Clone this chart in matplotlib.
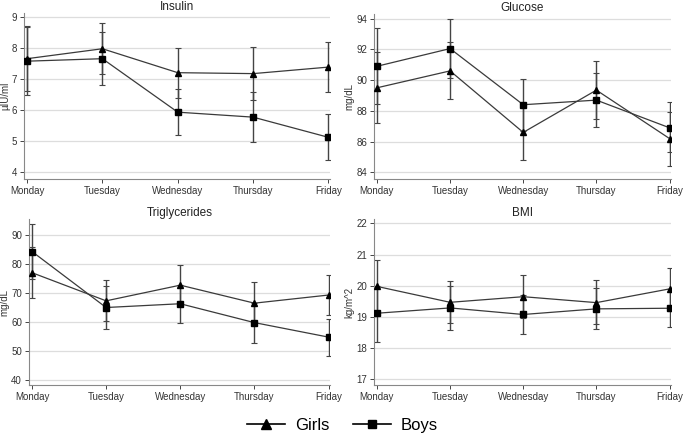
import numpy as np
import matplotlib
matplotlib.use("Agg")
import matplotlib.pyplot as plt
from matplotlib.lines import Line2D

plt.rcParams['font.family'] = ['Liberation Sans', 'DejaVu Sans']

# ── Data ──────────────────────────────────────────────────────────────────────

DAYS = ["Monday", "Tuesday", "Wednesday", "Thursday", "Friday"]

insulin_girls    = [7.65, 7.97, 7.20, 7.17, 7.38]
insulin_girls_lo = [6.62, 7.15, 6.40, 6.32, 6.58]
insulin_girls_hi = [8.70, 8.80, 8.00, 8.03, 8.20]
insulin_boys     = [7.57, 7.65, 5.93, 5.77, 5.12]
insulin_boys_lo  = [6.47, 6.80, 5.18, 4.97, 4.38]
insulin_boys_hi  = [8.67, 8.50, 6.68, 6.57, 5.86]

glucose_girls    = [89.5, 90.6, 86.6, 89.35, 86.2]
glucose_girls_lo = [87.2, 88.75, 84.8, 87.45, 84.4]
glucose_girls_hi = [91.8, 92.45, 88.4, 91.25, 87.95]
glucose_boys     = [90.9, 92.05, 88.4, 88.7, 86.9]
glucose_boys_lo  = [88.45, 90.15, 86.7, 86.95, 85.3]
glucose_boys_hi  = [93.4, 93.95, 90.1, 90.45, 88.55]

trig_girls    = [77.0, 67.3, 72.7, 66.5, 69.3]
trig_girls_lo = [68.2, 60.3, 65.7, 59.2, 62.4]
trig_girls_hi = [85.8, 74.4, 79.7, 73.8, 76.2]
trig_boys     = [84.3, 65.0, 66.3, 59.8, 54.8]
trig_boys_lo  = [74.7, 57.7, 59.8, 52.9, 48.4]
trig_boys_hi  = [93.9, 72.3, 72.8, 66.7, 61.1]

bmi_girls    = [19.98, 19.47, 19.65, 19.46, 19.90]
bmi_girls_lo = [19.12, 18.80, 18.97, 18.76, 19.20]
bmi_girls_hi = [20.83, 20.15, 20.33, 20.17, 20.58]
bmi_boys     = [19.12, 19.29, 19.08, 19.26, 19.28]
bmi_boys_lo  = [18.20, 18.58, 18.45, 18.60, 18.67]
bmi_boys_hi  = [20.00, 20.00, 19.70, 19.93, 19.90]

# ── Figure ────────────────────────────────────────────────────────────────────

W, H = 685, 436
fig = plt.figure(figsize=(W / 100, H / 100), dpi=100)


def px_axes(x0, y0, x1, y1):
    # pixel box (top-left origin) -> figure fraction
    return fig.add_axes([x0 / W, 1 - y1 / H, (x1 - x0) / W, (y1 - y0) / H])


panels = [
    ("Insulin", "µIU/ml", (24, 13, 330, 179), (3.78, 9.12), [4, 5, 6, 7, 8, 9],
     insulin_girls, insulin_girls_lo, insulin_girls_hi,
     insulin_boys, insulin_boys_lo, insulin_boys_hi),
    ("Glucose", "mg/dL", (374, 14, 671, 179), (83.57, 94.3), [84, 86, 88, 90, 92, 94],
     glucose_girls, glucose_girls_lo, glucose_girls_hi,
     glucose_boys, glucose_boys_lo, glucose_boys_hi),
    ("Triglycerides", "mg/dL", (29, 219, 330, 385), (38.3, 95.5), [40, 50, 60, 70, 80, 90],
     trig_girls, trig_girls_lo, trig_girls_hi,
     trig_boys, trig_boys_lo, trig_boys_hi),
    ("BMI", "kg/m^2", (374, 219, 671, 385), (16.82, 22.14), [17, 18, 19, 20, 21, 22],
     bmi_girls, bmi_girls_lo, bmi_girls_hi,
     bmi_boys, bmi_boys_lo, bmi_boys_hi),
]

x = np.arange(len(DAYS))
LINE = "#3a3a3a"
BAR = "#444444"

for (title, ylab, box, ylim, yticks,
     g, g_lo, g_hi, b, b_lo, b_hi) in panels:
    ax = px_axes(*box)
    for mean, lo, hi, marker in [(g, g_lo, g_hi, "^"), (b, b_lo, b_hi, "s")]:
        mean = np.array(mean)
        err = [mean - np.array(lo), np.array(hi) - mean]
        ax.errorbar(x, mean, yerr=err, fmt="none", ecolor=BAR,
                    elinewidth=1.0, capsize=2, capthick=0.8, zorder=2)
        ax.plot(x, mean, color=LINE, lw=0.9, marker=marker,
                ms=5, mfc="black", mec="black", zorder=3)

    ax.set_xlim(-0.04, 4.02)
    ax.set_ylim(*ylim)
    ax.set_xticks(x)
    ax.set_xticklabels(DAYS)
    ax.set_yticks(yticks)
    ax.yaxis.grid(True, color="#dddddd", lw=0.9)
    ax.set_axisbelow(True)
    for s in ["top", "right"]:
        ax.spines[s].set_visible(False)
    for s in ["left", "bottom"]:
        ax.spines[s].set_color("#888888")
        ax.spines[s].set_linewidth(0.8)
    ax.tick_params(axis="both", labelsize=7, colors="#444444", length=3,
                   width=0.7, pad=2, labelcolor="#333333")
    ax.set_title(title, fontsize=8.5, color="#222222", pad=2)
    ax.set_ylabel(ylab, fontsize=7, color="#333333", labelpad=1)

# ── Legend ────────────────────────────────────────────────────────────────────

handles = [
    Line2D([], [], color="black", lw=1.2, marker="^", ms=7, mfc="black"),
    Line2D([], [], color="black", lw=1.2, marker="s", ms=6, mfc="black"),
]
fig.legend(handles, ["Girls", "Boys"], loc="center", bbox_to_anchor=(0.5, 1 - 425 / H),
           ncol=2, frameon=False, fontsize=12, handlelength=2.3, columnspacing=1.4,
           handletextpad=0.6)

fig.savefig("out.png", dpi=100)
